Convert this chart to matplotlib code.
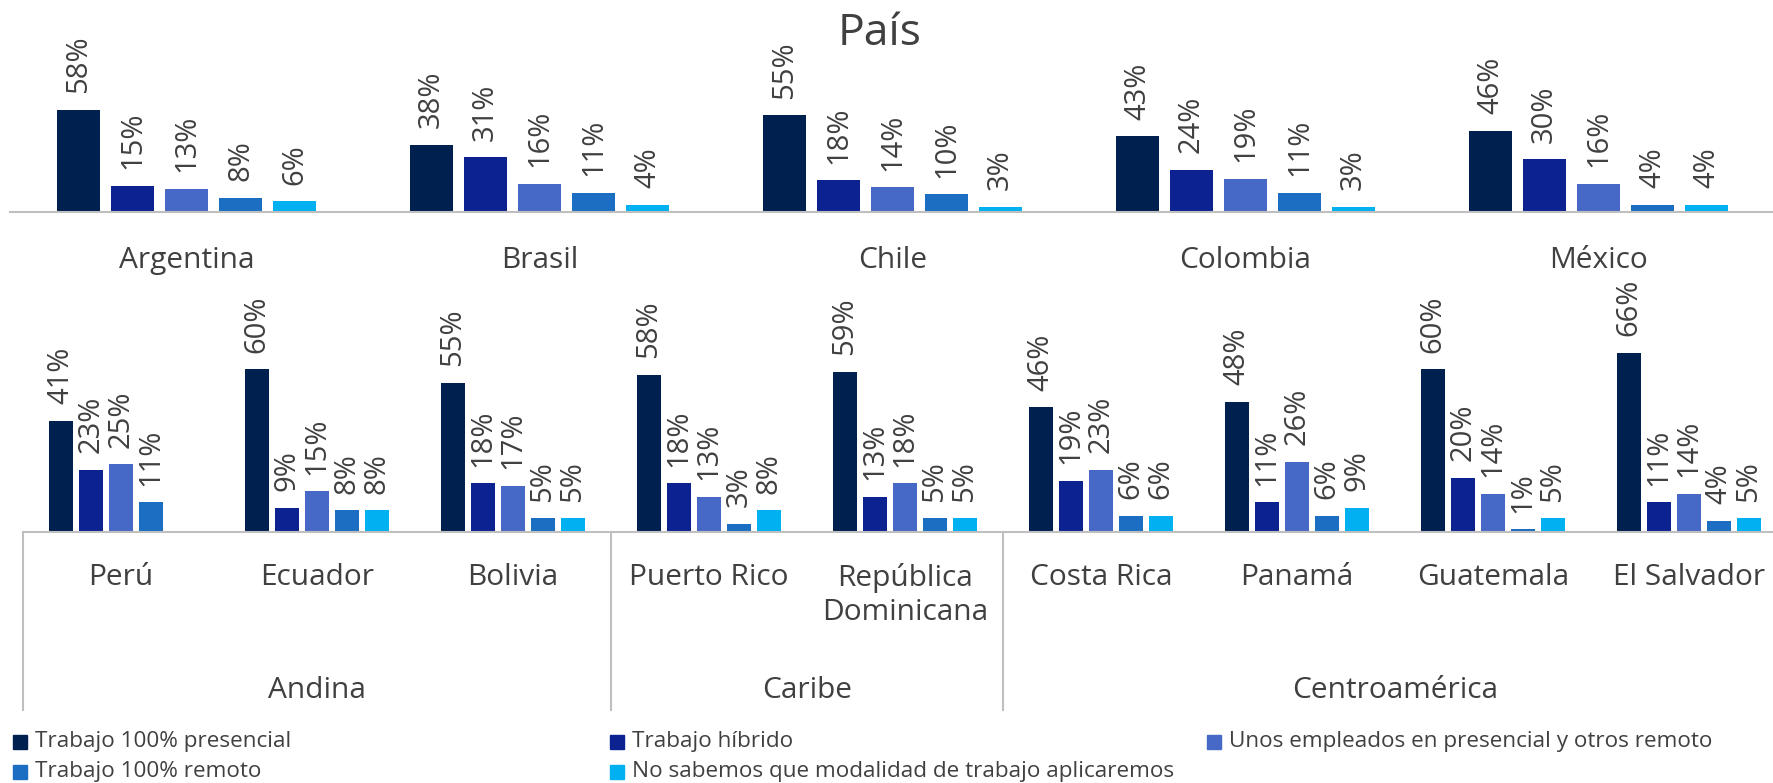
import matplotlib.pyplot as plt
import matplotlib.transforms as mtransforms
from matplotlib.patches import Rectangle
import numpy as np

plt.rcParams['font.family'] = ['Open Sans', 'DejaVu Sans']

series = ['Trabajo 100% presencial', 'Trabajo híbrido',
          'Unos empleados en presencial y otros remoto', 'Trabajo 100% remoto',
          'No sabemos que modalidad de trabajo aplicaremos']
colors = ['#002050', '#0C2290', '#4668C6', '#1B6EC2', '#00B0F0']

top_countries = ['Argentina', 'Brasil', 'Chile', 'Colombia', 'México']
top_presencial = [58, 38, 55, 43, 46]
top_hibrido = [15, 31, 18, 24, 30]
top_unos = [13, 16, 14, 19, 16]
top_remoto = [8, 11, 10, 11, 4]
top_nosabemos = [6, 4, 3, 3, 4]

bottom_countries = ['Perú', 'Ecuador', 'Bolivia', 'Puerto Rico', 'República\nDominicana',
                    'Costa Rica', 'Panamá', 'Guatemala', 'El Salvador']
bot_presencial = [41, 60, 55, 58, 59, 46, 48, 60, 66]
bot_hibrido = [23, 9, 18, 18, 13, 19, 11, 20, 11]
bot_unos = [25, 15, 17, 13, 18, 23, 26, 14, 14]
bot_remoto = [11, 8, 5, 3, 5, 6, 6, 1, 4]
bot_nosabemos = [None, 8, 5, 8, 5, 6, 9, 5, 5]

regions = ['Andina', 'Caribe', 'Centroamérica']
region_sizes = [3, 2, 4]

W, H = 1773, 783
text_color = '#404040'
line_color = '#BFBFBF'

fig = plt.figure(figsize=(W / 100, H / 100), dpi=100)


def draw_row(ax, cats, values):
    x = np.arange(len(cats))
    step, width = 0.153, 0.12
    for i, (vals, c) in enumerate(zip(values, colors)):
        v = np.array([np.nan if a is None else a for a in vals], dtype=float)
        pos = x + (i - 2) * step
        ax.bar(pos, v, width, color=c)
        for p, h in zip(pos, v):
            if np.isnan(h):
                continue
            ax.annotate(f'{h:.0f}%', (p, h), xytext=(0, 12), textcoords='offset points',
                        rotation=90, ha='center', va='bottom', fontsize=21, color=text_color)
    ax.set_xlim(-0.5, len(cats) - 0.5)
    ax.set_xticks([])
    ax.set_yticks([])
    for s in ['top', 'left', 'right']:
        ax.spines[s].set_visible(False)
    ax.spines['bottom'].set_color(line_color)
    ax.spines['bottom'].set_linewidth(1.5)
    return x


# top row
ax_top = fig.add_axes([10 / W, (H - 212) / H, 1765 / W, 202 / H])
x = draw_row(ax_top, top_countries,
             [top_presencial, top_hibrido, top_unos, top_remoto, top_nosabemos])
ax_top.set_ylim(0, 202 / 1.76)
for xi, name in zip(x, top_countries):
    ax_top.annotate(name, (xi, 0), xycoords=('data', 'axes fraction'), xytext=(0, -34.6),
                    textcoords='offset points', ha='center', va='center',
                    fontsize=21.5, color=text_color)

# bottom row
ax_bot = fig.add_axes([23 / W, (H - 532) / H, 1764 / W, 252 / H])
x = draw_row(ax_bot, bottom_countries,
             [bot_presencial, bot_hibrido, bot_unos, bot_remoto, bot_nosabemos])
ax_bot.set_ylim(0, 252 / 2.71)
for xi, name in zip(x, bottom_countries):
    ax_bot.annotate(name, (xi, 0), xycoords=('data', 'axes fraction'), xytext=(0, -22),
                    textcoords='offset points', ha='center', va='top',
                    fontsize=21.5, color=text_color, linespacing=1.25)

trans = mtransforms.blended_transform_factory(ax_bot.transData, ax_bot.transAxes)
start = 0
for reg, size in zip(regions, region_sizes):
    ax_bot.plot([start - 0.5, start - 0.5], [0, -178 / 252], transform=trans,
                color=line_color, lw=1.5, clip_on=False)
    ax_bot.annotate(reg, (start + size / 2 - 0.5, 0), xycoords=('data', 'axes fraction'),
                    xytext=(0, -114), textcoords='offset points', ha='center', va='center',
                    fontsize=21.5, color=text_color)
    start += size

fig.text(880 / W, 1 - 34 / H, 'País', ha='center', va='center', fontsize=32, color=text_color)

# legend
legend_x = [13, 610, 1207]
legend_y = [742, 772]
for i, (lab, c) in enumerate(zip(series, colors)):
    x0 = legend_x[i % 3]
    yc = legend_y[i // 3]
    fig.add_artist(Rectangle((x0 / W, 1 - (yc + 7) / H), 14 / W, 14 / H,
                             transform=fig.transFigure, color=c))
    fig.text((x0 + 22) / W, 1 - yc / H, lab, ha='left', va='center',
             fontsize=16.2, color=text_color)

fig.savefig('out.png', dpi=100)
